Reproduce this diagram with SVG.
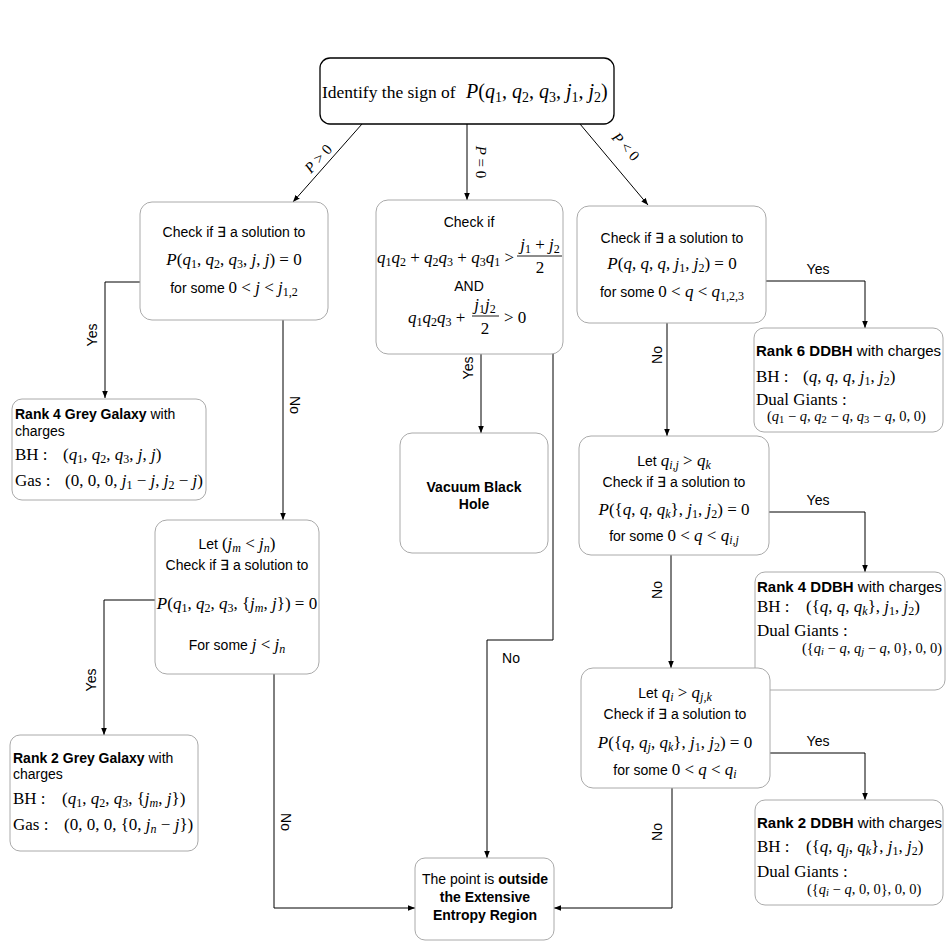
<svg xmlns="http://www.w3.org/2000/svg" width="947" height="947" viewBox="0 0 947 947">
<style>
.box{fill:#fff;stroke:#aaa;stroke-width:1}
.topbox{fill:#fff;stroke:#000;stroke-width:1.3}
.sans{font-family:"Liberation Sans",Arial,sans-serif;font-size:14px;fill:#000}
.b{font-weight:bold}
.m{font-family:"Liberation Serif","Times New Roman",serif;font-size:17px;fill:#000}
.i{font-style:italic}
.s{font-size:12px}
.sm{font-size:15px}
.ss{font-size:10.5px}
.t{font-size:14.5px}
.tt{font-size:17.5px}
.tm{font-size:20px}
.ts{font-size:14px}
.d{font-size:15px}
.edge{stroke:#000;stroke-width:1;fill:none;marker-end:url(#ah)}
.bar{stroke:#000;stroke-width:0.9}
.c{text-anchor:middle}
</style>
<defs>
<marker id="ah" viewBox="0 0 10 10" refX="10" refY="5" markerWidth="7" markerHeight="7" orient="auto" markerUnits="userSpaceOnUse"><path d="M0,1 L10,5 L0,9 z" fill="#000"/></marker>
</defs>

<g id="connectors">
<path class="edge" d="M362,124 L293,202"/>
<path class="edge" d="M467,124 L467,200"/>
<path class="edge" d="M580,124 L648,205"/>
<path class="edge" d="M140,282 H105 V398"/>
<path class="edge" d="M283,320 V520"/>
<path class="edge" d="M481,354 V433"/>
<path class="edge" d="M553,354 V640 H487 V858"/>
<path class="edge" d="M155,600 H104 V735"/>
<path class="edge" d="M274,674 V908 H415"/>
<path class="edge" d="M766,281 H865 V328"/>
<path class="edge" d="M667,323 V436"/>
<path class="edge" d="M769,512 H865 V572"/>
<path class="edge" d="M671,555 V668"/>
<path class="edge" d="M770,753 H865 V800"/>
<path class="edge" d="M672,788 V908 H554"/>
<text class="m i sm" transform="translate(322,162) rotate(-48)" text-anchor="middle">P<tspan font-style="normal"> &gt; 0</tspan></text>
<text class="m i sm" transform="translate(476,162) rotate(90)" text-anchor="middle">P<tspan font-style="normal"> = 0</tspan></text>
<text class="m i sm" transform="translate(622,150) rotate(48)" text-anchor="middle">P<tspan font-style="normal"> &lt; 0</tspan></text>
<text class="sans" transform="translate(97,335) rotate(-90)" text-anchor="middle">Yes</text>
<text class="sans" transform="translate(290,405) rotate(90)" text-anchor="middle">No</text>
<text class="sans" transform="translate(473,368) rotate(-90)" text-anchor="middle">Yes</text>
<text class="sans" x="511" y="663" text-anchor="middle">No</text>
<text class="sans" transform="translate(96,680) rotate(-90)" text-anchor="middle">Yes</text>
<text class="sans" transform="translate(281,822) rotate(90)" text-anchor="middle">No</text>
<text class="sans" x="818" y="274" text-anchor="middle">Yes</text>
<text class="sans" transform="translate(662,355) rotate(-90)" text-anchor="middle">No</text>
<text class="sans" x="818" y="505" text-anchor="middle">Yes</text>
<text class="sans" transform="translate(662,590) rotate(-90)" text-anchor="middle">No</text>
<text class="sans" x="818" y="746" text-anchor="middle">Yes</text>
<text class="sans" transform="translate(662,832) rotate(-90)" text-anchor="middle">No</text>
</g>

<g id="n-top">
<rect class="topbox" x="320" y="58" width="294" height="66" rx="10"/>
<text class="m tt" x="322" y="98">Identify the sign of</text>
<text class="m tm" x="466" y="98"><tspan class="i">P</tspan>(<tspan class="i">q</tspan><tspan class="ts" dy="4">1</tspan><tspan dy="-4">, </tspan><tspan class="i">q</tspan><tspan class="ts" dy="4">2</tspan><tspan dy="-4">, </tspan><tspan class="i">q</tspan><tspan class="ts" dy="4">3</tspan><tspan dy="-4">, </tspan><tspan class="i">j</tspan><tspan class="ts" dy="4">1</tspan><tspan dy="-4">, </tspan><tspan class="i">j</tspan><tspan class="ts" dy="4">2</tspan><tspan dy="-4">)</tspan></text>
</g>

<g id="n-pos">
<rect class="box" x="140" y="202" width="188" height="118" rx="12"/>
<text class="sans c" x="234" y="237">Check if ∃ a solution to</text>
<text class="m c" x="234" y="265"><tspan class="i">P</tspan>(<tspan class="i">q</tspan><tspan class="s" dy="3">1</tspan><tspan dy="-3">, </tspan><tspan class="i">q</tspan><tspan class="s" dy="3">2</tspan><tspan dy="-3">, </tspan><tspan class="i">q</tspan><tspan class="s" dy="3">3</tspan><tspan dy="-3">, </tspan><tspan class="i">j</tspan>, <tspan class="i">j</tspan>) = 0</text>
<text class="sans c" x="234" y="293">for some <tspan class="m">0 &lt; </tspan><tspan class="m i">j</tspan><tspan class="m"> &lt; </tspan><tspan class="m i">j</tspan><tspan class="m s" dy="3">1,2</tspan></text>
</g>

<g id="n-zero">
<rect class="box" x="376" y="200" width="187" height="154" rx="12"/>
<text class="sans c" x="469" y="227">Check if</text>
<text class="m" x="377" y="263"><tspan class="i">q</tspan><tspan class="s" dy="3">1</tspan><tspan class="i" dy="-3">q</tspan><tspan class="s" dy="3">2</tspan><tspan dy="-3"> + </tspan><tspan class="i">q</tspan><tspan class="s" dy="3">2</tspan><tspan class="i" dy="-3">q</tspan><tspan class="s" dy="3">3</tspan><tspan dy="-3"> + </tspan><tspan class="i">q</tspan><tspan class="s" dy="3">3</tspan><tspan class="i" dy="-3">q</tspan><tspan class="s" dy="3">1</tspan><tspan dy="-3"> &gt;</tspan></text>
<text class="m c" x="540" y="250"><tspan class="i">j</tspan><tspan class="s" dy="3">1</tspan><tspan dy="-3"> + </tspan><tspan class="i">j</tspan><tspan class="s" dy="3">2</tspan></text>
<line class="bar" x1="517" y1="256" x2="562" y2="256"/>
<text class="m c" x="540" y="273">2</text>
<text class="sans c" x="469" y="291">AND</text>
<text class="m" x="408" y="323"><tspan class="i">q</tspan><tspan class="s" dy="3">1</tspan><tspan class="i" dy="-3">q</tspan><tspan class="s" dy="3">2</tspan><tspan class="i" dy="-3">q</tspan><tspan class="s" dy="3">3</tspan><tspan dy="-3"> +</tspan></text>
<text class="m c" x="485" y="310"><tspan class="i">j</tspan><tspan class="s" dy="3">1</tspan><tspan class="i" dy="-3">j</tspan><tspan class="s" dy="3">2</tspan></text>
<line class="bar" x1="472" y1="316" x2="499" y2="316"/>
<text class="m c" x="485" y="334">2</text>
<text class="m" x="504" y="323">&gt; 0</text>
</g>

<g id="n-neg">
<rect class="box" x="577" y="206" width="189" height="117" rx="12"/>
<text class="sans c" x="672" y="243">Check if ∃ a solution to</text>
<text class="m c" x="672" y="269"><tspan class="i">P</tspan>(<tspan class="i">q</tspan>, <tspan class="i">q</tspan>, <tspan class="i">q</tspan>, <tspan class="i">j</tspan><tspan class="s" dy="3">1</tspan><tspan dy="-3">, </tspan><tspan class="i">j</tspan><tspan class="s" dy="3">2</tspan><tspan dy="-3">) = 0</tspan></text>
<text class="sans c" x="672" y="297">for some <tspan class="m">0 &lt; </tspan><tspan class="m i">q</tspan><tspan class="m"> &lt; </tspan><tspan class="m i">q</tspan><tspan class="m s" dy="3">1,2,3</tspan></text>
</g>

<g id="n-rank4gg">
<rect class="box" x="12" y="399" width="194" height="101" rx="10"/>
<text class="sans" x="15" y="419"><tspan class="b">Rank 4 Grey Galaxy</tspan> with</text>
<text class="sans" x="15" y="436">charges</text>
<text class="m" x="15" y="460">BH :</text>
<text class="m" x="63" y="460">(<tspan class="i">q</tspan><tspan class="s" dy="3">1</tspan><tspan dy="-3">, </tspan><tspan class="i">q</tspan><tspan class="s" dy="3">2</tspan><tspan dy="-3">, </tspan><tspan class="i">q</tspan><tspan class="s" dy="3">3</tspan><tspan dy="-3">, </tspan><tspan class="i">j</tspan>, <tspan class="i">j</tspan>)</text>
<text class="m" x="15" y="486">Gas :</text>
<text class="m" x="65" y="486">(0, 0, 0, <tspan class="i">j</tspan><tspan class="s" dy="3">1</tspan><tspan dy="-3"> − </tspan><tspan class="i">j</tspan>, <tspan class="i">j</tspan><tspan class="s" dy="3">2</tspan><tspan dy="-3"> − </tspan><tspan class="i">j</tspan>)</text>
</g>

<g id="n-vacuum">
<rect class="box" x="400" y="433" width="148" height="120" rx="12"/>
<text class="sans b c" x="474" y="492">Vacuum Black</text>
<text class="sans b c" x="474" y="509">Hole</text>
</g>

<g id="n-rank6">
<rect class="box" x="754" y="328" width="189" height="104" rx="10"/>
<text class="sans d" x="756" y="356"><tspan class="b">Rank 6 DDBH</tspan> with charges</text>
<text class="m" x="756" y="382">BH :</text>
<text class="m" x="803" y="382">(<tspan class="i">q</tspan>, <tspan class="i">q</tspan>, <tspan class="i">q</tspan>, <tspan class="i">j</tspan><tspan class="s" dy="3">1</tspan><tspan dy="-3">, </tspan><tspan class="i">j</tspan><tspan class="s" dy="3">2</tspan><tspan dy="-3">)</tspan></text>
<text class="m" x="756" y="405">Dual Giants :</text>
<text class="m t" x="767" y="421">(<tspan class="i">q</tspan><tspan class="ss" dy="2">1</tspan><tspan dy="-2"> − </tspan><tspan class="i">q</tspan>, <tspan class="i">q</tspan><tspan class="ss" dy="2">2</tspan><tspan dy="-2"> − </tspan><tspan class="i">q</tspan>, <tspan class="i">q</tspan><tspan class="ss" dy="2">3</tspan><tspan dy="-2"> − </tspan><tspan class="i">q</tspan>, 0, 0)</text>
</g>

<g id="n-letjm">
<rect class="box" x="155" y="520" width="164" height="154" rx="12"/>
<text class="sans c" x="237" y="549">Let <tspan class="m">(</tspan><tspan class="m i">j</tspan><tspan class="m i s" dy="3">m</tspan><tspan class="m" dy="-3"> &lt; </tspan><tspan class="m i">j</tspan><tspan class="m i s" dy="3">n</tspan><tspan class="m" dy="-3">)</tspan></text>
<text class="sans c" x="237" y="570">Check if ∃ a solution to</text>
<text class="m c" x="237" y="609"><tspan class="i">P</tspan>(<tspan class="i">q</tspan><tspan class="s" dy="3">1</tspan><tspan dy="-3">, </tspan><tspan class="i">q</tspan><tspan class="s" dy="3">2</tspan><tspan dy="-3">, </tspan><tspan class="i">q</tspan><tspan class="s" dy="3">3</tspan><tspan dy="-3">, {</tspan><tspan class="i">j</tspan><tspan class="i s" dy="3">m</tspan><tspan dy="-3">, </tspan><tspan class="i">j</tspan>}) = 0</text>
<text class="sans c" x="237" y="650">For some <tspan class="m i">j</tspan><tspan class="m"> &lt; </tspan><tspan class="m i">j</tspan><tspan class="m i s" dy="3">n</tspan></text>
</g>

<g id="n-rank2gg">
<rect class="box" x="10" y="735" width="188" height="116" rx="10"/>
<text class="sans" x="13" y="763"><tspan class="b">Rank 2 Grey Galaxy</tspan> with</text>
<text class="sans" x="13" y="779">charges</text>
<text class="m" x="13" y="804">BH :</text>
<text class="m" x="62" y="804">(<tspan class="i">q</tspan><tspan class="s" dy="3">1</tspan><tspan dy="-3">, </tspan><tspan class="i">q</tspan><tspan class="s" dy="3">2</tspan><tspan dy="-3">, </tspan><tspan class="i">q</tspan><tspan class="s" dy="3">3</tspan><tspan dy="-3">, {</tspan><tspan class="i">j</tspan><tspan class="i s" dy="3">m</tspan><tspan dy="-3">, </tspan><tspan class="i">j</tspan>})</text>
<text class="m" x="13" y="830">Gas :</text>
<text class="m" x="64" y="830">(0, 0, 0, {0, <tspan class="i">j</tspan><tspan class="i s" dy="3">n</tspan><tspan dy="-3"> − </tspan><tspan class="i">j</tspan>})</text>
</g>

<g id="n-letqij">
<rect class="box" x="579" y="436" width="190" height="119" rx="12"/>
<text class="sans c" x="674" y="466">Let <tspan class="m i">q</tspan><tspan class="m i s" dy="3">i,j</tspan><tspan class="m" dy="-3"> &gt; </tspan><tspan class="m i">q</tspan><tspan class="m i s" dy="3">k</tspan></text>
<text class="sans c" x="674" y="487">Check if ∃ a solution to</text>
<text class="m c" x="674" y="515"><tspan class="i">P</tspan>({<tspan class="i">q</tspan>, <tspan class="i">q</tspan>, <tspan class="i">q</tspan><tspan class="i s" dy="3">k</tspan><tspan dy="-3">}, </tspan><tspan class="i">j</tspan><tspan class="s" dy="3">1</tspan><tspan dy="-3">, </tspan><tspan class="i">j</tspan><tspan class="s" dy="3">2</tspan><tspan dy="-3">) = 0</tspan></text>
<text class="sans c" x="674" y="541">for some   <tspan class="m">0 &lt; </tspan><tspan class="m i">q</tspan><tspan class="m"> &lt; </tspan><tspan class="m i">q</tspan><tspan class="m i s" dy="3">i,j</tspan></text>
</g>

<g id="n-rank4ddbh">
<rect class="box" x="755" y="572" width="190" height="118" rx="10"/>
<text class="sans d" x="757" y="592"><tspan class="b">Rank 4 DDBH</tspan> with charges</text>
<text class="m" x="757" y="612">BH :</text>
<text class="m" x="806" y="612">({<tspan class="i">q</tspan>, <tspan class="i">q</tspan>, <tspan class="i">q</tspan><tspan class="i s" dy="3">k</tspan><tspan dy="-3">}, </tspan><tspan class="i">j</tspan><tspan class="s" dy="3">1</tspan><tspan dy="-3">, </tspan><tspan class="i">j</tspan><tspan class="s" dy="3">2</tspan><tspan dy="-3">)</tspan></text>
<text class="m" x="757" y="636">Dual Giants :</text>
<text class="m t" x="802" y="653">({<tspan class="i">q</tspan><tspan class="i ss" dy="2">i</tspan><tspan dy="-2"> − </tspan><tspan class="i">q</tspan>, <tspan class="i">q</tspan><tspan class="i ss" dy="2">j</tspan><tspan dy="-2"> − </tspan><tspan class="i">q</tspan>, 0}, 0, 0)</text>
</g>

<g id="n-letqi">
<rect class="box" x="581" y="668" width="189" height="120" rx="12"/>
<text class="sans c" x="675" y="698">Let <tspan class="m i">q</tspan><tspan class="m i s" dy="3">i</tspan><tspan class="m" dy="-3"> &gt; </tspan><tspan class="m i">q</tspan><tspan class="m i s" dy="3">j,k</tspan></text>
<text class="sans c" x="675" y="719">Check if ∃ a solution to</text>
<text class="m c" x="675" y="748"><tspan class="i">P</tspan>({<tspan class="i">q</tspan>, <tspan class="i">q</tspan><tspan class="i s" dy="3">j</tspan><tspan dy="-3">, </tspan><tspan class="i">q</tspan><tspan class="i s" dy="3">k</tspan><tspan dy="-3">}, </tspan><tspan class="i">j</tspan><tspan class="s" dy="3">1</tspan><tspan dy="-3">, </tspan><tspan class="i">j</tspan><tspan class="s" dy="3">2</tspan><tspan dy="-3">) = 0</tspan></text>
<text class="sans c" x="675" y="775">for some   <tspan class="m">0 &lt; </tspan><tspan class="m i">q</tspan><tspan class="m"> &lt; </tspan><tspan class="m i">q</tspan><tspan class="m i s" dy="3">i</tspan></text>
</g>

<g id="n-rank2ddbh">
<rect class="box" x="755" y="800" width="188" height="105" rx="10"/>
<text class="sans d" x="757" y="828"><tspan class="b">Rank 2 DDBH</tspan> with charges</text>
<text class="m" x="757" y="852">BH :</text>
<text class="m" x="806" y="852">({<tspan class="i">q</tspan>, <tspan class="i">q</tspan><tspan class="i s" dy="3">j</tspan><tspan dy="-3">, </tspan><tspan class="i">q</tspan><tspan class="i s" dy="3">k</tspan><tspan dy="-3">}, </tspan><tspan class="i">j</tspan><tspan class="s" dy="3">1</tspan><tspan dy="-3">, </tspan><tspan class="i">j</tspan><tspan class="s" dy="3">2</tspan><tspan dy="-3">)</tspan></text>
<text class="m" x="757" y="877">Dual Giants :</text>
<text class="m t" x="807" y="894">({<tspan class="i">q</tspan><tspan class="i ss" dy="2">i</tspan><tspan dy="-2"> − </tspan><tspan class="i">q</tspan>, 0, 0}, 0, 0)</text>
</g>

<g id="n-outside">
<rect class="box" x="415" y="858" width="139" height="82" rx="10"/>
<text class="sans c" x="485" y="884">The point is <tspan class="b">outside</tspan></text>
<text class="sans b c" x="485" y="902">the Extensive</text>
<text class="sans b c" x="485" y="920">Entropy Region</text>
</g>
</svg>
